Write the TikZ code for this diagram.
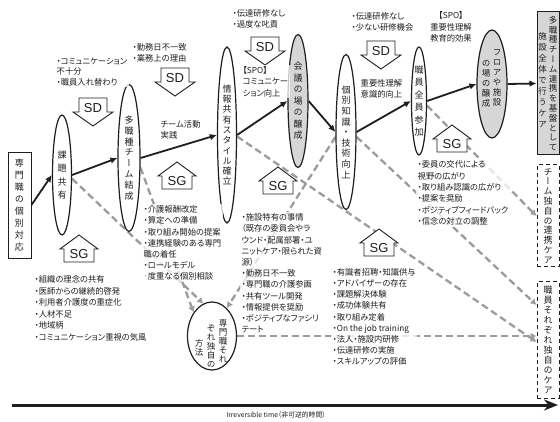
\documentclass[tikz,border=0pt]{standalone}
\usepackage{fontspec}
\setmainfont{Noto Sans CJK JP}[RawFeature=+palt]
\newfontfamily\vjp{Noto Sans CJK JP}[RawFeature=+vert]
\newfontfamily\lat{Liberation Sans}
\usetikzlibrary{arrows.meta,shapes.geometric,calc}
\pgfdeclarelayer{back}
\pgfdeclarelayer{bg}
\pgfsetlayers{back,bg,main}
\definecolor{dashgray}{HTML}{9C9C9C}
\definecolor{fillgray}{HTML}{D6D6D6}
\definecolor{ink}{HTML}{1E1E1E}
\tikzset{
  mainflow/.style={line width=1.8pt,draw=ink,-{Latex[length=7pt,width=6.5pt]}},
  gdash/.style={line width=2.3pt,draw=dashgray,dash pattern=on 7pt off 4pt,-{Latex[length=6pt,width=7pt]}},
  stageell/.style={ellipse,draw=ink,line width=1.2pt,inner sep=0pt,fill=white,align=center,text=ink},
  vfont/.style={font=\vjp\fontsize{9}{#1}\selectfont},
  lst/.style={align=left,anchor=north west,inner sep=1.5pt,fill=white,fill opacity=0.75,text opacity=1,text=ink,font=\fontsize{8.3}{11.2}\selectfont},
  ctext/.style={align=center,inner sep=1pt,text=ink,font=\fontsize{8.3}{11.2}\selectfont},
  vcol/.style={inner sep=0pt,align=center,text=ink,font=\vjp\fontsize{8.5}{#1}\selectfont},
  blockline/.style={draw=ink,line width=0.9pt,fill=white},
  endbox/.style={line width=1pt,minimum width=22,inner sep=0pt,align=center,text=ink},
  sdarrow/.pic={
    \path[blockline] (-14,0) -- (14,0) -- (14,14) -- (20,14) -- (0,28) -- (-20,14) -- (-14,14) -- cycle;
    \node[inner sep=0pt,text=ink,font=\lat\fontsize{13}{13}\selectfont] (-t) at (0,10) {SD};
  },
  sghouse/.pic={
    \path[blockline] (0,0) -- (19,14) -- (15,14) -- (15,27) -- (-15,27) -- (-15,14) -- (-19,14) -- cycle;
    \node[inner sep=0pt,text=ink,font=\lat\fontsize{13}{13}\selectfont] (-t) at (0,19) {SG};
  },
}
\begin{document}
\begin{tikzpicture}[x=1pt,y=-1pt]
\path[use as bounding box] (0,0) rectangle (560,422);
\begin{pgfonlayer}{back}
\fill[white] (0,0) rectangle (560,422);
\end{pgfonlayer}

% start box
\node[draw=ink,line width=0.9pt,minimum width=23,minimum height=106,inner sep=0pt,align=center,text=ink,vfont=12] (b0) at (19.5,205) {専\\門\\職\\の\\個\\別\\対\\応};

% stage ellipses
\node[stageell,minimum width=19,minimum height=120,vfont=13.5] (e1) at (62,175) {課\\題\\共\\有};
\node[stageell,minimum width=22,minimum height=147,vfont=10.8] (e2) at (129,158) {多\\職\\種\\チ\\ー\\ム\\結\\成};
\node[stageell,minimum width=19,minimum height=176,vfont=10.3] (e3) at (227,135) {情\\報\\共\\有\\ス\\タ\\イ\\ル\\確\\立};
\node[stageell,fill=fillgray,minimum width=20,minimum height=133,vfont=11.5] (e4) at (298,101) {会\\議\\の\\場\\の\\醸\\成};
\node[stageell,minimum width=20,minimum height=155,vfont=10.6] (e5) at (346,132) {個\\別\\知\\識\\・\\技\\術\\向\\上};
\node[stageell,minimum width=15,minimum height=108,vfont=12.5] (e6) at (419,101) {職\\員\\全\\員\\参\\加};
\node[stageell,fill=fillgray,minimum width=30,minimum height=108] (e7) at (492,84) {};
\node[vcol=10] (e7r) at (497,78) {フ\\ロ\\ア\\や\\施\\設};
\node[vcol=10] (e7l) at (486,84) {の\\場\\の\\醸\\成};
\node[stageell,minimum width=49,minimum height=68] (e8) at (212,336) {};
\node[vcol=9] (e8r) at (223,341) {専\\門\\職\\そ\\れ};
\node[vcol=9] (e8m) at (211,346) {ぞ\\れ\\独\\自\\の};
\node[vcol=9] (e8l) at (199,348) {方\\法};

% end boxes
\node[draw=ink,fill=fillgray,endbox,minimum height=143] (b1) at (548,83.5) {};
\node[vcol=9.8] (b1r) at (553,83.5) {多\\職\\種\\チ\\ー\\ム\\連\\携\\を\\基\\盤\\と\\し\\て};
\node[vcol=11] (b1l) at (542.5,80) {施\\設\\全\\体\\で\\行\\う\\ケ\\ア};
\node[draw=ink,dash pattern=on 4pt off 3pt,endbox,minimum height=102,vfont=9.8] (b2) at (548,216) {チ\\ー\\ム\\独\\自\\の\\連\\携\\ケ\\ア};
\node[draw=ink,dash pattern=on 4pt off 3pt,endbox,minimum height=116,vfont=10] (b3) at (548,340) {職\\員\\そ\\れ\\ぞ\\れ\\独\\自\\の\\ケ\\ア};

% dashed influence lines (behind)
\begin{pgfonlayer}{bg}
\draw[gdash] (e1.-20) -- (e8.105);
\draw[gdash] (e2.-40) -- (e8.128);
\draw[gdash] (e5.205) -- (e8.62);
\draw[gdash] (e8.east) -- (e8.east -| b3.west);
\draw[gdash] (e3.-8) -- ([yshift=-2pt]b3.west);
\draw[gdash] (e5.-25) -- ([yshift=35pt]b3.west);
\draw[gdash] (e6.-30) -- (b2.west);
\end{pgfonlayer}

% SD arrows and SG houses
\pic (sd1) at (93,98) {sdarrow};
\pic (sd2) at (175,68) {sdarrow};
\pic (sd3) at (265,37) {sdarrow};
\pic (sd4) at (381,41) {sdarrow};
\pic (sg1) at (79,235) {sghouse};
\pic (sg2) at (177,162) {sghouse};
\pic (sg3) at (278,167) {sghouse};
\pic (sg4) at (452,125) {sghouse};
\pic (sg5) at (379,229) {sghouse};

% texts
\node[lst,font=\fontsize{8.3}{10.5}\selectfont] (t1) at (55,56) {・コミュニケーション\\不十分\\・職員入れ替わり};
\node[lst] (t2) at (131,42) {・勤務日不一致\\・業務上の理由};
\node[lst,font=\fontsize{8.3}{10.5}\selectfont] (t3) at (159,119) {チーム活動\\実践};
\node[lst,font=\fontsize{8.3}{10.5}\selectfont] (t4) at (231,8) {・伝達研修なし\\・過度な叱責};
\node[lst] (t5) at (241,65) {【SPO】\\コミュニケー\\ション向上};
\node[lst,font=\fontsize{8.3}{10.5}\selectfont] (t6) at (350,11) {・伝達研修なし\\・少ない研修機会};
\node[lst] (t7) at (359,78) {重要性理解\\意識的向上};
\node[ctext] (t8) at (451,27) {【SPO】\\重要性理解\\教育的効果};
\node[lst] (t9) at (142,204) {・介護報酬改定\\・算定への準備\\・取り組み開始の提案\\・連携経験のある専門\\職の着任\\・ロールモデル\\・度重なる個別相談};
\node[lst,font=\fontsize{8.3}{11.5}\selectfont] (t10) at (33,274) {・組織の理念の共有\\・医師からの継続的啓発\\・利用者介護度の重症化\\・人材不足\\・地域柄\\・コミュニケーション重視の気風};
\node[lst] (t11) at (240,212) {・施設特有の事情\\（既存の委員会やラ\\ウンド・配属部署・ユ\\ニットケア・限られた資\\源）\\・勤務日不一致\\・専門職の介護参画\\・共有ツール開発\\・情報提供を奨励\\・ポジティブなファシリ\\テート};
\node[lst,font=\fontsize{8.3}{11.1}\selectfont] (t12) at (331,267) {・有識者招聘・知識供与\\・アドバイザーの存在\\・課題解決体験\\・成功体験共有\\・取り組み定着\\・On the job training\\・法人・施設内研修\\・伝達研修の実施\\・スキルアップの評価};
\node[lst,font=\fontsize{8.3}{11.4}\selectfont] (t13) at (416,159) {・委員の交代による\\視野の広がり\\・取り組み認識の広がり\\・提案を奨励\\・ポジティブフィードバック\\・信念の対立の調整};

% main flow
\draw[mainflow] (b0.east) -- (e1.west);
\draw[mainflow] (e1.east) -- (e2.west);
\draw[mainflow] (e2.east) -- (e3.west);
\draw[mainflow] (e3.east) -- (e4.west);
\draw[mainflow] (e4.east) -- (e5.west);
\draw[mainflow] (e5.east) -- (e6.west);
\draw[mainflow] (e6.east) -- (e7.west);
\draw[mainflow] (e7.east) -- (b1.west);

% time axis
\coordinate (t0) at (12,405);
\coordinate (tend) at (558,405);
\draw[line width=3pt,draw=ink,-{Stealth[length=14pt,width=11pt]}] (t0) -- (tend);
\node[text=ink,font=\fontsize{6.8}{8}\selectfont,inner sep=0pt] (tl) at (276,415) {Irreversible time（非可逆的時間）};
\end{tikzpicture}
\end{document}
